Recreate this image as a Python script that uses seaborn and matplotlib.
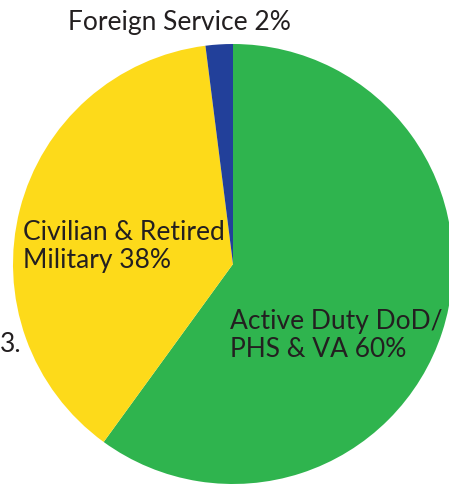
import matplotlib
matplotlib.use("Agg")
import matplotlib.pyplot as plt
import seaborn as sns

sns.set_theme(style="white")
plt.rcParams['font.family'] = ['Lato', 'DejaVu Sans']

categories = ["Active Duty DoD/\nPHS & VA 60%", "Civilian & Retired\nMilitary 38%", "Foreign Service 2%"]
values = [60, 38, 2]
colors = ["#2fb44e", "#fdda1a", "#22409a"]

W, H = 449, 485
fig = plt.figure(figsize=(W / 100, H / 100), dpi=100)
ax = fig.add_axes([0, 0, 1, 1])

ax.pie(values, colors=colors, startangle=90, counterclock=False,
       center=(233, H - 265), radius=220, frame=True,
       wedgeprops=dict(linewidth=0))
ax.set_xlim(0, W)
ax.set_ylim(0, H)
ax.set_aspect("equal")
ax.axis("off")

tc = "#231f20"
fs = 19
ax.text(68, H - 30, categories[2], fontsize=fs, color=tc, ha="left", va="baseline")
ax.text(23, H - 268, categories[1], fontsize=fs, color=tc, ha="left", va="baseline",
        linespacing=1.15)
ax.text(230, H - 357, categories[0], fontsize=fs, color=tc, ha="left", va="baseline",
        linespacing=1.15)
ax.text(0, H - 352, "3.", fontsize=fs, color=tc, ha="left", va="baseline")

fig.savefig("out.png", dpi=100)
